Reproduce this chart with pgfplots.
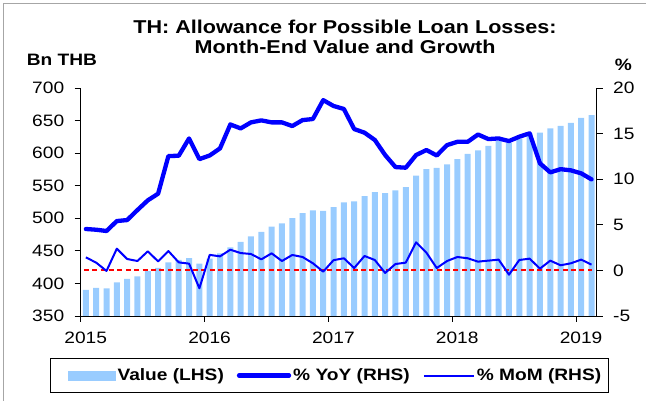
\documentclass[border=0pt]{standalone}
\usepackage{fontspec}
\setmainfont{Liberation Sans}
\usepackage{graphicx}
\usepackage{pgfplots}
\pgfplotsset{compat=1.18}
\definecolor{barblue}{RGB}{153,204,255}
\definecolor{lineblue}{RGB}{0,0,255}
\pgfplotsset{
  longline/.style={legend image code/.code={\draw[##1] (0pt,0pt) -- (50pt,0pt);}},
  barswatch/.style={legend image code/.code={\fill[barblue] (0pt,-4.65pt) rectangle (47pt,4.65pt);}},
}
\newcommand{\tf}{\fontsize{16.5}{19}\selectfont}
\newcommand{\hs}[1]{\scalebox{1.16}[1]{#1}}
\begin{document}
\begin{tikzpicture}[x=1pt,y=1pt]
\useasboundingbox (0,0) rectangle (646,401);
\draw[gray!70, line width=1.5pt] (3.5,0) -- (3.5,397.5) -- (646,397.5);
\node[anchor=base, inner sep=0pt, font=\bfseries\fontsize{18.6}{22}\selectfont] at (345,367.7) {\hs{TH: Allowance for Possible Loan Losses:}};
\node[anchor=base, inner sep=0pt, font=\bfseries\fontsize{18.6}{22}\selectfont] at (345,347.7) {\hs{Month-End Value and Growth}};
\node[anchor=base west, inner sep=0pt, font=\bfseries\tf] at (26.7,335) {\hs{Bn THB}};
\node[anchor=base, inner sep=0pt, font=\bfseries\tf] at (623.5,330) {\hs{\%}};
\draw[black, line width=0.8pt] (50.7,8.7) rectangle (608.7,42.3);
\begin{axis}[
  at={(80.7pt,85pt)}, anchor=south west,
  scale only axis, width=516pt, height=228pt,
  xmin=0, xmax=50, ymin=350, ymax=700,
  axis x line*=bottom, axis y line*=left,
  xtick={0,12,24,36,48}, xticklabels={\hs{2015},\hs{2016},\hs{2017},\hs{2018},\hs{2019}},
  ytick={350,400,450,500,550,600,650,700},
  yticklabels={\hs{350},\hs{400},\hs{450},\hs{500},\hs{550},\hs{600},\hs{650},\hs{700}},
  tick align=outside, major tick length=6pt,
  tick style={black, line width=0.8pt},
  axis line style={black, line width=0.8pt, -},
  tick label style={font=\tf},
  xticklabel style={xshift=5pt, yshift=-6pt},
  yticklabel style={xshift=-7pt},
  ybar, bar width=6pt, bar shift=0pt,
]
\addplot[fill=barblue, draw=none] table[x=x, y=v] {
x v
0.5 390
1.5 393
2.5 392.5
3.5 401.7
4.5 406.8
5.5 411
6.5 419
7.5 423.7
8.5 432.4
9.5 436
10.5 439
11.5 430.3
12.5 438
13.5 446.2
14.5 455.4
15.5 463.6
16.5 472.3
17.5 479
18.5 487
19.5 492.2
20.5 500.4
21.5 508
22.5 512.2
23.5 511.2
24.5 517.3
25.5 524.5
26.5 526
27.5 534.2
28.5 540.3
29.5 538.8
30.5 543
31.5 548
32.5 565.4
33.5 575.6
34.5 577.2
35.5 582.8
36.5 591
37.5 598.7
38.5 604.3
39.5 611
40.5 618.6
41.5 615.5
42.5 622.7
43.5 630.5
44.5 631.5
45.5 638
46.5 641.7
47.5 646.3
48.5 654
49.5 658.5
};
\end{axis}
\begin{axis}[
  at={(80.7pt,85pt)}, anchor=south west,
  scale only axis, width=516pt, height=228pt,
  xmin=0, xmax=50, ymin=-5, ymax=20,
  axis x line=none, axis y line*=right,
  ytick={-5,0,5,10,15,20}, yticklabels={\hs{-5},\hs{0},\hs{5},\hs{10},\hs{15},\hs{20}},
  tick align=outside, major tick length=6pt,
  tick style={black, line width=0.8pt},
  axis line style={black, line width=0.8pt, -},
  tick label style={font=\tf},
  yticklabel style={xshift=7pt},
  legend columns=3,
  legend cell align=left,
  legend style={at={(1.013,-0.261)}, anchor=east, draw=none, fill=none,
    font=\bfseries\tf, inner xsep=0pt, inner ysep=0pt,
    /tikz/every even column/.append style={column sep=11pt}},
]
\addlegendimage{barswatch}
\addlegendentry{\hs{Value (LHS)}}
\addplot[red, line width=2pt, dash pattern=on 5pt off 3.4pt, forget plot] coordinates {(0.3,0) (49.5,0)};
\addplot[lineblue, line width=4.3pt, line join=round, line cap=round, longline] table[x=x, y=yoy] {
x yoy
0.5 4.54
1.5 4.46
2.5 4.32
3.5 5.41
4.5 5.52
5.5 6.62
6.5 7.68
7.5 8.41
8.5 12.54
9.5 12.57
10.5 14.47
11.5 12.2
12.5 12.6
13.5 13.38
14.5 16.0
15.5 15.57
16.5 16.23
17.5 16.45
18.5 16.23
19.5 16.23
20.5 15.83
21.5 16.48
22.5 16.6
23.5 18.67
24.5 18.03
25.5 17.7
26.5 15.5
27.5 15.1
28.5 14.3
29.5 12.65
30.5 11.33
31.5 11.26
32.5 12.65
33.5 13.2
34.5 12.6
35.5 13.74
36.5 14.1
37.5 14.1
38.5 14.9
39.5 14.4
40.5 14.47
41.5 14.18
42.5 14.66
43.5 15.03
44.5 11.74
45.5 10.75
46.5 11.1
47.5 10.97
48.5 10.64
49.5 9.98
};
\addlegendentry{\hs{\% YoY (RHS)}}
\addplot[lineblue, line width=2pt, line join=round, longline] table[x=x, y=mom] {
x mom
0.5 1.43
1.5 0.85
2.5 -0.06
3.5 2.38
4.5 1.25
5.5 1.03
6.5 2.09
7.5 0.99
8.5 2.12
9.5 0.88
10.5 0.74
11.5 -1.96
12.5 1.7
13.5 1.54
14.5 2.27
15.5 1.9
16.5 1.8
17.5 1.21
18.5 1.87
19.5 1.03
20.5 1.69
21.5 1.47
22.5 0.78
23.5 -0.14
24.5 1.12
25.5 1.33
26.5 0.26
27.5 1.58
28.5 1.14
29.5 -0.28
30.5 0.7
31.5 0.85
32.5 3.08
33.5 1.94
34.5 0.26
35.5 1.03
36.5 1.47
37.5 1.33
38.5 0.96
39.5 1.07
40.5 1.18
41.5 -0.47
42.5 1.14
43.5 1.29
44.5 0.19
45.5 1.07
46.5 0.56
47.5 0.78
48.5 1.18
49.5 0.63
};
\addlegendentry{\hs{\% MoM (RHS)}}
\end{axis}
\end{tikzpicture}
\end{document}
